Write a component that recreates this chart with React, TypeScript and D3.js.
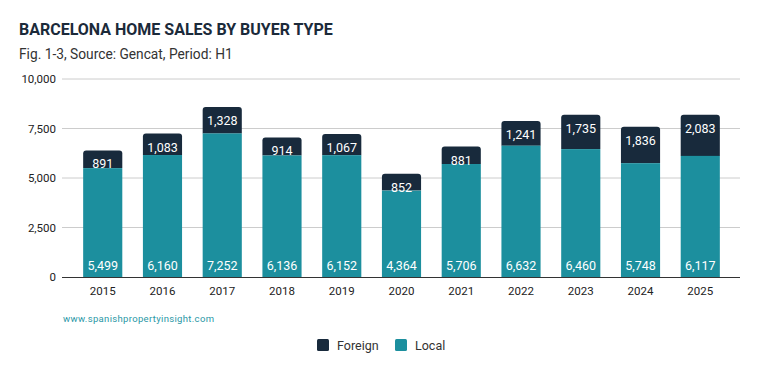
import { useRef, useEffect } from "react";
import * as d3 from "d3";

const years = ["2015", "2016", "2017", "2018", "2019", "2020", "2021", "2022", "2023", "2024", "2025"];
const local = [5499, 6160, 7252, 6136, 6152, 4364, 5706, 6632, 6460, 5748, 6117];
const foreign = [891, 1083, 1328, 914, 1067, 852, 881, 1241, 1735, 1836, 2083];
const yTicks = [0, 2500, 5000, 7500, 10000];

const LOCAL_COL = "#1c8f9e";
const FOREIGN_COL = "#182a3c";

export default function App() {
  const ref = useRef<SVGSVGElement>(null);

  useEffect(() => {
    const svg = d3.select(ref.current);
    svg.selectAll("*").remove();

    const x = d3.scaleBand().domain(years).range([73, 730]).paddingInner(0.345).paddingOuter(0.17);
    const y = d3.scaleLinear().domain([0, 10000]).range([277, 79]);
    const fmt = d3.format(",");

    svg.append("text").attr("x", 19).attr("y", 35)
      .attr("font-size", 16).attr("font-weight", 700).attr("fill", "#1b2a3a")
      .text("BARCELONA HOME SALES BY BUYER TYPE");
    svg.append("text").attr("x", 19).attr("y", 59)
      .attr("font-size", 13.75).attr("fill", "#333")
      .text("Fig. 1-3, Source: Gencat, Period: H1");

    // gridlines
    svg.append("g").selectAll("line").data(yTicks.slice(1)).join("line")
      .attr("x1", 62).attr("x2", 740)
      .attr("y1", d => y(d)).attr("y2", d => y(d))
      .attr("stroke", "#cccccc").attr("stroke-width", 1);
    svg.append("g").selectAll("text").data(yTicks).join("text")
      .attr("x", 56).attr("y", d => y(d) + 4)
      .attr("text-anchor", "end").attr("font-size", 11.5).attr("fill", "#222")
      .text(d => fmt(d));

    const g = svg.append("g");
    years.forEach((yr, i) => {
      const bx = x(yr)!;
      const bw = x.bandwidth();
      const top = y(local[i] + foreign[i]);
      const mid = y(local[i]);
      // foreign segment, top corners rounded
      const r = 3;
      const p = d3.path();
      p.moveTo(bx, mid);
      p.lineTo(bx, top + r);
      p.quadraticCurveTo(bx, top, bx + r, top);
      p.lineTo(bx + bw - r, top);
      p.quadraticCurveTo(bx + bw, top, bx + bw, top + r);
      p.lineTo(bx + bw, mid);
      p.closePath();
      g.append("path").attr("d", p.toString()).attr("fill", FOREIGN_COL);
      g.append("rect").attr("x", bx).attr("y", mid).attr("width", bw)
        .attr("height", y(0) - mid).attr("fill", LOCAL_COL);
      g.append("text").attr("x", bx + bw / 2).attr("y", top + 18)
        .attr("text-anchor", "middle").attr("font-size", 12.5).attr("fill", "#fff")
        .text(fmt(foreign[i]));
      g.append("text").attr("x", bx + bw / 2).attr("y", 270)
        .attr("text-anchor", "middle").attr("font-size", 12.5).attr("fill", "#fff")
        .text(fmt(local[i]));
    });

    // x axis
    svg.append("line").attr("x1", 62).attr("x2", 740).attr("y1", 277.5).attr("y2", 277.5)
      .attr("stroke", "#333").attr("stroke-width", 1);
    svg.append("g").selectAll("text").data(years).join("text")
      .attr("x", d => x(d)! + x.bandwidth() / 2).attr("y", 295)
      .attr("text-anchor", "middle").attr("font-size", 11.5).attr("fill", "#222")
      .text(d => d);

    svg.append("text").attr("x", 63).attr("y", 322)
      .attr("font-size", 9.5).attr("fill", "#2a97a6")
      .attr("textLength", 151).attr("lengthAdjust", "spacing")
      .text("www.spanishpropertyinsight.com");

    // legend
    const legend = [{ k: "Foreign", c: FOREIGN_COL, x: 317 }, { k: "Local", c: LOCAL_COL, x: 395 }];
    const lg = svg.append("g");
    legend.forEach(l => {
      lg.append("rect").attr("x", l.x).attr("y", 339).attr("width", 12).attr("height", 12)
        .attr("rx", 1.5).attr("fill", l.c);
      lg.append("text").attr("x", l.x + 20).attr("y", 349.5)
        .attr("font-size", 12.5).attr("fill", "#333").text(l.k);
    });
  }, []);

  return (
    <svg ref={ref} width={759} height={371}
      style={{ position: "absolute", left: 0, top: 0, fontFamily: "Roboto, sans-serif", background: "#fff" }} />
  );
}
